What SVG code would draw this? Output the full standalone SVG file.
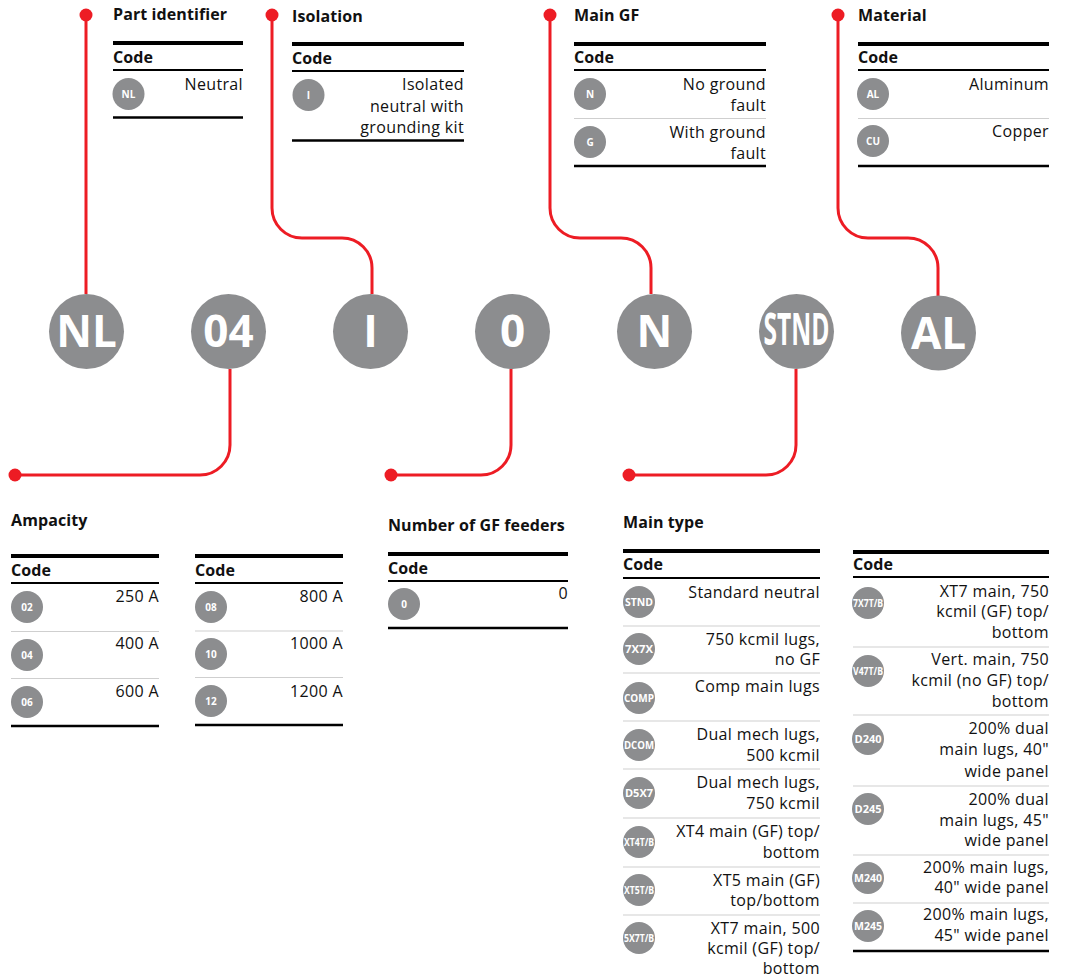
<svg xmlns="http://www.w3.org/2000/svg" width="1065" height="979" viewBox="0 0 1065 979">
<style>
.t{font-family:"Open Sans","Noto Sans",sans-serif;font-size:16px;fill:#111;letter-spacing:.35px}
.r{text-anchor:end}
.b{font-weight:700;letter-spacing:.1px}
.sc{fill:#8c8d8f}
.sl{font-family:"Open Sans","Noto Sans",sans-serif;font-weight:700;font-size:10px;fill:#fff;text-anchor:middle}
.big{font-family:"Open Sans","Noto Sans",sans-serif;font-size:44px;font-weight:700;fill:#fff;text-anchor:middle}
.thick{stroke:#000;stroke-width:4}
.hd{stroke:#000;stroke-width:2}
.bt{stroke:#000;stroke-width:2.5}
.dv{stroke:#cfcfcf;stroke-width:1}
.con{fill:none;stroke:#ed1c24;stroke-width:3}
.dot{fill:#ed1c24}
</style>
<rect width="1065" height="979" fill="#fff"/>

<g id="connectors">
<path class="con" d="M86 15V294"/>
<path class="con" d="M272 15V208A30 30 0 0 0 302 238H342A30 30 0 0 1 372 268V294"/>
<path class="con" d="M550 15V208A30 30 0 0 0 580 238H621A30 30 0 0 1 651 268V294"/>
<path class="con" d="M838 15V208A30 30 0 0 0 868 238H908A30 30 0 0 1 938 268V296"/>
<path class="con" d="M230 369V445A30 30 0 0 1 200 475H15"/>
<path class="con" d="M511 369V445A30 30 0 0 1 481 475H391"/>
<path class="con" d="M796 369V445A30 30 0 0 1 766 475H629"/>
<circle class="dot" cx="86" cy="15" r="6.5"/>
<circle class="dot" cx="272" cy="15" r="6.5"/>
<circle class="dot" cx="550" cy="15" r="6.5"/>
<circle class="dot" cx="838" cy="15" r="6.5"/>
<circle class="dot" cx="15" cy="475" r="6.5"/>
<circle class="dot" cx="391" cy="475" r="6.5"/>
<circle class="dot" cx="629" cy="475" r="6.5"/>
</g>

<g id="code-NL"><circle class="sc" cx="86.5" cy="331.5" r="37.5"/><text class="big" x="86.5" y="347">NL</text></g>
<g id="code-04"><circle class="sc" cx="228.5" cy="331.5" r="37.5"/><text class="big" x="228.5" y="347">04</text></g>
<g id="code-I"><circle class="sc" cx="370.5" cy="331.5" r="37.5"/><text class="big" x="370.5" y="347">I</text></g>
<g id="code-0"><circle class="sc" cx="512.5" cy="331.5" r="37.5"/><text class="big" x="512.5" y="347">0</text></g>
<g id="code-N"><circle class="sc" cx="654.5" cy="331.5" r="37.5"/><text class="big" x="654.5" y="347">N</text></g>
<g id="code-STND"><circle class="sc" cx="796.5" cy="331.5" r="37.5"/><text class="big" x="796.5" y="345" font-size="38" textLength="66" lengthAdjust="spacingAndGlyphs">STND</text></g>
<g id="code-AL"><circle class="sc" cx="938.5" cy="333" r="37.5"/><text class="big" x="938.5" y="349">AL</text></g>

<g id="part-identifier">
<text class="t b" x="113" y="20">Part identifier</text>
<line class="thick" x1="113" y1="43" x2="243" y2="43"/>
<text class="t b" x="113" y="63">Code</text>
<line class="hd" x1="113" y1="70" x2="243" y2="70"/>
<circle class="sc" cx="128.5" cy="94" r="16"/><text class="sl" x="128.5" y="97.5">NL</text>
<text class="t r" x="243" y="90">Neutral</text>
<line class="bt" x1="113" y1="117.5" x2="243" y2="117.5"/>
</g>

<g id="isolation">
<text class="t b" x="292" y="22">Isolation</text>
<line class="thick" x1="292" y1="44" x2="464" y2="44"/>
<text class="t b" x="292" y="64">Code</text>
<line class="hd" x1="292" y1="71" x2="464" y2="71"/>
<circle class="sc" cx="308.5" cy="95" r="16"/><text class="sl" x="308.5" y="98.5">I</text>
<text class="t r" x="464" y="90">Isolated</text>
<text class="t r" x="464" y="112">neutral with</text>
<text class="t r" x="464" y="133">grounding kit</text>
<line class="bt" x1="292" y1="140.5" x2="464" y2="140.5"/>
</g>

<g id="main-gf">
<text class="t b" x="574" y="21">Main GF</text>
<line class="thick" x1="574" y1="44" x2="766" y2="44"/>
<text class="t b" x="574" y="63">Code</text>
<line class="hd" x1="574" y1="70" x2="766" y2="70"/>
<circle class="sc" cx="590" cy="94" r="16"/><text class="sl" x="590" y="97.5">N</text>
<text class="t r" x="766" y="90">No ground</text>
<text class="t r" x="766" y="111">fault</text>
<line class="dv" x1="574" y1="118.5" x2="766" y2="118.5"/>
<circle class="sc" cx="590" cy="142" r="16"/><text class="sl" x="590" y="145.5">G</text>
<text class="t r" x="766" y="138">With ground</text>
<text class="t r" x="766" y="159">fault</text>
<line class="bt" x1="574" y1="166" x2="766" y2="166"/>
</g>

<g id="material">
<text class="t b" x="858" y="21">Material</text>
<line class="thick" x1="858" y1="44" x2="1049" y2="44"/>
<text class="t b" x="858" y="63">Code</text>
<line class="hd" x1="858" y1="70" x2="1049" y2="70"/>
<circle class="sc" cx="873" cy="94" r="16"/><text class="sl" x="873" y="97.5">AL</text>
<text class="t r" x="1049" y="90">Aluminum</text>
<line class="dv" x1="858" y1="118.5" x2="1049" y2="118.5"/>
<circle class="sc" cx="873" cy="141" r="16"/><text class="sl" x="873" y="144.5">CU</text>
<text class="t r" x="1049" y="137">Copper</text>
<line class="bt" x1="858" y1="166" x2="1049" y2="166"/>
</g>

<g id="ampacity">
<text class="t b" x="11" y="526">Ampacity</text>
<line class="thick" x1="11" y1="556" x2="159" y2="556"/>
<text class="t b" x="11" y="576">Code</text>
<line class="hd" x1="11" y1="583" x2="159" y2="583"/>
<circle class="sc" cx="27" cy="607" r="16"/><text class="sl" x="27" y="610.5">02</text>
<text class="t r" x="159" y="602">250 A</text>
<line class="dv" x1="11" y1="631.5" x2="159" y2="631.5"/>
<circle class="sc" cx="27" cy="655" r="16"/><text class="sl" x="27" y="658.5">04</text>
<text class="t r" x="159" y="649">400 A</text>
<line class="dv" x1="11" y1="678.5" x2="159" y2="678.5"/>
<circle class="sc" cx="27" cy="702" r="16"/><text class="sl" x="27" y="705.5">06</text>
<text class="t r" x="159" y="697">600 A</text>
<line class="bt" x1="11" y1="726" x2="159" y2="726"/>

<line class="thick" x1="195" y1="556" x2="343" y2="556"/>
<text class="t b" x="195" y="576">Code</text>
<line class="hd" x1="195" y1="583" x2="343" y2="583"/>
<circle class="sc" cx="211" cy="607" r="16"/><text class="sl" x="211" y="610.5">08</text>
<text class="t r" x="343" y="602">800 A</text>
<line class="dv" x1="195" y1="631" x2="343" y2="631"/>
<circle class="sc" cx="211" cy="654" r="16"/><text class="sl" x="211" y="657.5">10</text>
<text class="t r" x="343" y="649">1000 A</text>
<line class="dv" x1="195" y1="677.5" x2="343" y2="677.5"/>
<circle class="sc" cx="211" cy="701" r="16"/><text class="sl" x="211" y="704.5">12</text>
<text class="t r" x="343" y="697">1200 A</text>
<line class="bt" x1="195" y1="725" x2="343" y2="725"/>
</g>

<g id="gf-feeders">
<text class="t b" x="388" y="531">Number of GF feeders</text>
<line class="thick" x1="388" y1="554" x2="568" y2="554"/>
<text class="t b" x="388" y="574">Code</text>
<line class="hd" x1="388" y1="581" x2="568" y2="581"/>
<circle class="sc" cx="404" cy="604" r="16"/><text class="sl" x="404" y="607.5">0</text>
<text class="t r" x="568" y="599">0</text>
<line class="bt" x1="388" y1="628" x2="568" y2="628"/>
</g>

<g id="main-type">
<text class="t b" x="623" y="528">Main type</text>
<line class="thick" x1="623" y1="551" x2="820" y2="551"/>
<text class="t b" x="623" y="570">Code</text>
<line class="hd" x1="623" y1="578" x2="820" y2="578"/>
<circle class="sc" cx="639" cy="602" r="16"/><text class="sl" x="639" y="605.5" textLength="28" lengthAdjust="spacingAndGlyphs">STND</text>
<text class="t r" x="820" y="598">Standard neutral</text>
<line class="dv" x1="623" y1="626" x2="820" y2="626"/>
<circle class="sc" cx="639" cy="649" r="16"/><text class="sl" x="639" y="652.5" textLength="28" lengthAdjust="spacingAndGlyphs">7X7X</text>
<text class="t r" x="820" y="645">750 kcmil lugs,</text>
<text class="t r" x="820" y="665">no GF</text>
<line class="dv" x1="623" y1="673" x2="820" y2="673"/>
<circle class="sc" cx="639" cy="698" r="16"/><text class="sl" x="639" y="701.5" textLength="30" lengthAdjust="spacingAndGlyphs">COMP</text>
<text class="t r" x="820" y="692">Comp main lugs</text>
<line class="dv" x1="623" y1="721" x2="820" y2="721"/>
<circle class="sc" cx="639" cy="745" r="16"/><text class="sl" x="639" y="748.5" textLength="30" lengthAdjust="spacingAndGlyphs">DCOM</text>
<text class="t r" x="820" y="740">Dual mech lugs,</text>
<text class="t r" x="820" y="761">500 kcmil</text>
<line class="dv" x1="623" y1="769" x2="820" y2="769"/>
<circle class="sc" cx="639" cy="793" r="16"/><text class="sl" x="639" y="796.5" textLength="28" lengthAdjust="spacingAndGlyphs">D5X7</text>
<text class="t r" x="820" y="788">Dual mech lugs,</text>
<text class="t r" x="820" y="809">750 kcmil</text>
<line class="dv" x1="623" y1="818" x2="820" y2="818"/>
<circle class="sc" cx="639" cy="842" r="16"/><text class="sl" x="639" y="845.5" textLength="30" lengthAdjust="spacingAndGlyphs">XT4T/B</text>
<text class="t r" x="820" y="837">XT4 main (GF) top/</text>
<text class="t r" x="820" y="858">bottom</text>
<line class="dv" x1="623" y1="867" x2="820" y2="867"/>
<circle class="sc" cx="639" cy="890" r="16"/><text class="sl" x="639" y="893.5" textLength="30" lengthAdjust="spacingAndGlyphs">XT5T/B</text>
<text class="t r" x="820" y="886">XT5 main (GF)</text>
<text class="t r" x="820" y="906">top/bottom</text>
<line class="dv" x1="623" y1="915" x2="820" y2="915"/>
<circle class="sc" cx="639" cy="938" r="16"/><text class="sl" x="639" y="941.5" textLength="30" lengthAdjust="spacingAndGlyphs">5X7T/B</text>
<text class="t r" x="820" y="934">XT7 main, 500</text>
<text class="t r" x="820" y="954">kcmil (GF) top/</text>
<text class="t r" x="820" y="974">bottom</text>
</g>

<g id="main-type-2">
<line class="thick" x1="853" y1="552" x2="1049" y2="552"/>
<text class="t b" x="853" y="570">Code</text>
<line class="hd" x1="853" y1="577" x2="1049" y2="577"/>
<circle class="sc" cx="868" cy="603" r="16"/><text class="sl" x="868" y="606.5" textLength="30" lengthAdjust="spacingAndGlyphs">7X7T/B</text>
<text class="t r" x="1049" y="597">XT7 main, 750</text>
<text class="t r" x="1049" y="617">kcmil (GF) top/</text>
<text class="t r" x="1049" y="638">bottom</text>
<line class="dv" x1="853" y1="647" x2="1049" y2="647"/>
<circle class="sc" cx="868" cy="671" r="16"/><text class="sl" x="868" y="674.5" textLength="30" lengthAdjust="spacingAndGlyphs">V47T/B</text>
<text class="t r" x="1049" y="665">Vert. main, 750</text>
<text class="t r" x="1049" y="686">kcmil (no GF) top/</text>
<text class="t r" x="1049" y="707">bottom</text>
<line class="dv" x1="853" y1="715" x2="1049" y2="715"/>
<circle class="sc" cx="868" cy="739" r="16"/><text class="sl" x="868" y="742.5" textLength="27" lengthAdjust="spacingAndGlyphs">D240</text>
<text class="t r" x="1049" y="734">200% dual</text>
<text class="t r" x="1049" y="755">main lugs, 40"</text>
<text class="t r" x="1049" y="777">wide panel</text>
<line class="dv" x1="853" y1="786" x2="1049" y2="786"/>
<circle class="sc" cx="868" cy="809" r="16"/><text class="sl" x="868" y="812.5" textLength="27" lengthAdjust="spacingAndGlyphs">D245</text>
<text class="t r" x="1049" y="805">200% dual</text>
<text class="t r" x="1049" y="826">main lugs, 45"</text>
<text class="t r" x="1049" y="846">wide panel</text>
<line class="dv" x1="853" y1="855" x2="1049" y2="855"/>
<circle class="sc" cx="868" cy="878" r="16"/><text class="sl" x="868" y="881.5" textLength="28" lengthAdjust="spacingAndGlyphs">M240</text>
<text class="t r" x="1049" y="873">200% main lugs,</text>
<text class="t r" x="1049" y="893">40" wide panel</text>
<line class="dv" x1="853" y1="903" x2="1049" y2="903"/>
<circle class="sc" cx="868" cy="926" r="16"/><text class="sl" x="868" y="929.5" textLength="28" lengthAdjust="spacingAndGlyphs">M245</text>
<text class="t r" x="1049" y="920">200% main lugs,</text>
<text class="t r" x="1049" y="941">45" wide panel</text>
<line class="bt" x1="853" y1="951" x2="1049" y2="951"/>
</g>
</svg>
